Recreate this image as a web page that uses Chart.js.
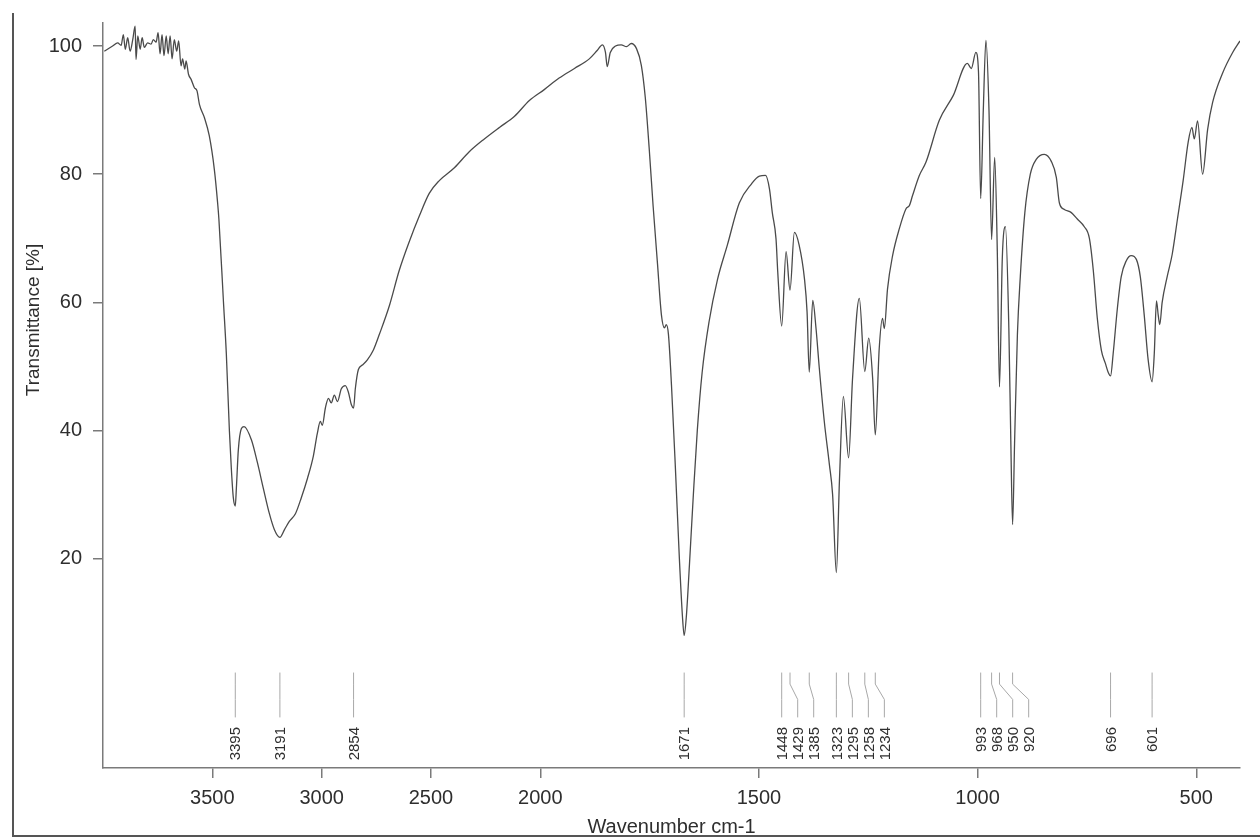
<!DOCTYPE html>
<html>
<head>
<meta charset="utf-8">
<title>IR spectrum</title>
<script src="https://cdn.jsdelivr.net/npm/chart.js@4.4.1/dist/chart.umd.min.js"></script>
<style>
  html, body { margin: 0; padding: 0; background: #ffffff; }
  #wrap { width: 1260px; height: 838px; position: relative; }
</style>
</head>
<body>
<div id="wrap"><canvas id="c" width="1260" height="838"></canvas></div>
<script>
// Spectrum samples: wavenumber (cm-1) and transmittance (%)
const wavenumbers = [
  3994, 3956, 3933, 3917, 3907, 3898, 3887, 3876, 3864, 3853, 3849, 3841, 3830, 3821, 3811,
  3796, 3780, 3770, 3757, 3748, 3739, 3730, 3721, 3711, 3702, 3693, 3684, 3674, 3663, 3654,
  3643, 3636, 3626, 3620, 3609, 3597, 3582, 3570, 3559, 3536, 3514, 3491, 3476, 3470, 3449,
  3436, 3422, 3413, 3404, 3395, 3390, 3381, 3367, 3355, 3321, 3294, 3267, 3239, 3216, 3191,
  3170, 3148, 3120, 3093, 3065, 3038, 3020, 3006, 2997, 2983, 2969, 2956, 2942, 2928, 2910,
  2892, 2878, 2864, 2854, 2846, 2832, 2814, 2791, 2764, 2736, 2690, 2645, 2599, 2553, 2508,
  2462, 2393, 2325, 2256, 2187, 2119, 2050, 1991, 1957, 1922, 1888, 1870, 1858, 1851, 1847,
  1840, 1828, 1815, 1803, 1792, 1780, 1769, 1760, 1751, 1742, 1732, 1723, 1716, 1712, 1707,
  1700, 1691, 1682, 1675, 1671, 1666, 1659, 1650, 1641, 1630, 1614, 1595, 1572, 1545, 1517,
  1499, 1485, 1476, 1469.5, 1461, 1457, 1448, 1438, 1429, 1419, 1408, 1396, 1390, 1385, 1377,
  1369.5, 1362, 1350.6, 1339, 1331.6, 1323, 1316, 1307, 1295, 1286, 1270.5, 1258, 1249, 1240, 1234,
  1225, 1217.5, 1213.3, 1206, 1194.4, 1179, 1163.7, 1156, 1148.6, 1133.3, 1118, 1087.6, 1055.6, 1023.5, 1014.4,
  1004, 998, 993, 987, 981, 974, 968, 961, 955, 950, 943.5, 936.4, 928.6, 924, 920,
  915.5, 909, 902.4, 892, 879.5, 866, 847.5, 831.5, 820, 813, 801.7, 785.7, 772, 756, 744.5,
  735.5, 726.3, 717, 708, 701, 696, 690, 680.5, 671.6, 660, 648.7, 637, 628, 619, 610,
  601, 596, 591, 587, 583.5, 578, 566.5, 555, 543, 530, 518.5, 510, 504.5, 497, 485.5,
  474, 462.6, 439.7, 416.8, 400
];
const transmittance = [
  99.2, 100.0, 100.5, 100.1, 101.8, 99.5, 101.3, 99.2, 101.0, 103.1, 97.9, 101.6, 99.5, 101.3, 99.8,
  100.5, 100.3, 101.0, 100.6, 102.1, 98.8, 101.8, 98.5, 101.6, 98.8, 101.6, 98.0, 101.0, 99.2, 100.8,
  96.9, 98.0, 96.4, 97.7, 95.6, 94.8, 93.5, 93.0, 90.9, 88.8, 86.0, 80.8, 75.6, 73.0, 60.0,
  52.0, 40.0, 34.0, 29.5, 28.2, 31.0, 37.0, 40.3, 40.6, 38.5, 35.0, 31.0, 27.0, 24.5, 23.3,
  24.5, 25.8, 27.0, 29.5, 32.5, 36.0, 39.5, 41.4, 40.8, 43.5, 45.0, 44.3, 45.5, 44.5, 46.5,
  47.0, 46.0, 44.0, 43.5, 46.5, 49.5, 50.2, 51.0, 52.5, 55.0, 59.5, 65.0, 69.5, 73.5, 77.0,
  79.0, 81.0, 83.5, 85.5, 87.3, 89.0, 91.5, 93.2, 95.0, 96.5, 98.0, 99.3, 100.2, 99.0, 96.8,
  99.0, 100.0, 100.2, 99.9, 100.4, 99.6, 97.0, 92.0, 84.0, 75.0, 66.0, 58.0, 56.0, 56.5, 55.0,
  47.0, 34.0, 20.0, 11.0, 8.0, 11.0, 19.0, 30.0, 40.0, 49.0, 57.0, 63.5, 69.0, 75.5, 78.5,
  79.7, 79.8, 77.7, 74.0, 69.9, 64.7, 56.3, 67.9, 61.9, 70.9, 68.9, 63.7, 58.5, 49.1, 60.3,
  55.9, 49.7, 41.4, 34.7, 30.0, 17.8, 32.1, 45.3, 35.7, 48.1, 60.6, 49.2, 54.4, 48.1, 39.3,
  52.8, 57.5, 55.9, 62.1, 67.3, 71.5, 74.6, 75.1, 76.7, 79.8, 81.9, 88.4, 92.3, 97.3, 96.5,
  99.0, 96.0, 76.2, 90.0, 100.9, 90.0, 69.8, 82.6, 68.0, 46.8, 67.0, 71.8, 56.0, 38.0, 25.3,
  38.0, 55.0, 64.0, 74.0, 80.0, 82.3, 83.1, 82.0, 79.5, 75.5, 74.5, 74.0, 73.0, 71.8, 70.0,
  65.0, 57.5, 52.5, 50.5, 49.0, 48.5, 52.0, 59.0, 64.0, 66.5, 67.3, 66.7, 64.0, 58.0, 51.0,
  47.6, 52.0, 60.2, 58.0, 56.5, 60.0, 64.0, 67.5, 73.0, 79.0, 85.0, 87.3, 85.5, 88.3, 80.0,
  87.0, 91.2, 95.8, 99.0, 100.8
];

// Picked peak positions (cm-1)
const peakLabels = [3395, 3191, 2854, 1671, 1448, 1429, 1385, 1323, 1295, 1258, 1234, 993, 968, 950, 920, 696, 601];

// Axis ticks
const xTickValues = [3500, 3000, 2500, 2000, 1500, 1000, 500];
const yTickValues = [20, 40, 60, 80, 100];

// The wavenumber axis is compressed by half above 2000 cm-1
function toPos(w) { return w <= 2000 ? w : 2000 + (w - 2000) / 2; }
function fromPos(p) { return p <= 2000 ? p : 2000 + (p - 2000) * 2; }

const points = wavenumbers.map((w, i) => ({ x: toPos(w), y: transmittance[i] }));

const AXIS_COLOR = '#7a7a7a';
const TEXT_COLOR = '#2e2e2e';
const FONT = '"Liberation Sans", Arial, sans-serif';

// Peak markers with labels; labels are pushed apart when peaks crowd together
const peakMarkers = {
  id: 'peakMarkers',
  afterDatasetsDraw(chart) {
    const { ctx, scales: { x, y } } = chart;
    const gap = 16;
    const yTop = y.getPixelForValue(2.2);
    const yKnee1 = y.getPixelForValue(0.4);
    const yKnee2 = y.getPixelForValue(-2.0);
    const yBottom = y.getPixelForValue(-4.8);
    const yText = y.getPixelForValue(-6.3);
    let prev = -Infinity;
    ctx.save();
    ctx.font = '15px ' + FONT;
    peakLabels.forEach(w => {
      const px = x.getPixelForValue(toPos(w));
      const lx = Math.max(px, prev + gap);
      prev = lx;
      ctx.strokeStyle = '#a8a8a8';
      ctx.lineWidth = 1;
      ctx.beginPath();
      ctx.moveTo(px, yTop);
      ctx.lineTo(px, yKnee1);
      ctx.lineTo(lx, yKnee2);
      ctx.lineTo(lx, yBottom);
      ctx.stroke();
      ctx.save();
      ctx.translate(lx + 1, yText);
      ctx.rotate(-Math.PI / 2);
      ctx.fillStyle = TEXT_COLOR;
      ctx.textAlign = 'right';
      ctx.textBaseline = 'middle';
      ctx.fillText(String(w), 0, 0);
      ctx.restore();
    });
    ctx.restore();
  }
};

// Frame and axis titles
const frameAndTitles = {
  id: 'frameAndTitles',
  afterDraw(chart) {
    const { ctx, chartArea } = chart;
    ctx.save();
    ctx.strokeStyle = '#555';
    ctx.lineWidth = 2;
    ctx.beginPath();
    ctx.moveTo(13, 13);
    ctx.lineTo(13, 836);
    ctx.lineTo(1260, 836);
    ctx.stroke();

    ctx.fillStyle = TEXT_COLOR;
    ctx.font = '20px ' + FONT;
    ctx.textAlign = 'center';
    ctx.textBaseline = 'alphabetic';
    ctx.fillText('Wavenumber cm-1', (chartArea.left + chartArea.right) / 2, 833);

    ctx.save();
    ctx.translate(34, 320);
    ctx.rotate(-Math.PI / 2);
    ctx.font = '19px ' + FONT;
    ctx.textBaseline = 'middle';
    ctx.fillText('Transmittance [%]', 0, 0);
    ctx.restore();
    ctx.restore();
  }
};

new Chart(document.getElementById('c'), {
  type: 'line',
  data: {
    datasets: [{
      data: points,
      borderColor: '#4a4a4a',
      borderWidth: 1.3,
      pointRadius: 0,
      fill: false,
      cubicInterpolationMode: 'monotone'
    }]
  },
  options: {
    responsive: false,
    animation: false,
    events: [],
    layout: { padding: { left: 0, right: 20, top: 19, bottom: 0 } },
    plugins: { legend: { display: false }, tooltip: { enabled: false } },
    scales: {
      x: {
        type: 'linear',
        reverse: true,
        min: toPos(400),
        max: toPos(4000),
        afterBuildTicks(scale) { scale.ticks = xTickValues.map(v => ({ value: toPos(v) })); },
        afterFit(scale) { scale.height = 70; },
        border: { display: true, color: AXIS_COLOR, width: 1.5 },
        grid: { drawOnChartArea: false, drawTicks: true, tickLength: 10, color: AXIS_COLOR, lineWidth: 1.5 },
        ticks: {
          autoSkip: false, maxRotation: 0, padding: 8,
          color: TEXT_COLOR, font: { family: FONT, size: 20 },
          callback: v => String(Math.round(fromPos(v)))
        }
      },
      y: {
        type: 'linear',
        min: -12.7,
        max: 103.6,
        afterBuildTicks(scale) { scale.ticks = yTickValues.map(v => ({ value: v })); },
        afterFit(scale) { scale.width = 103; },
        border: { display: true, color: AXIS_COLOR, width: 1.5 },
        grid: { drawOnChartArea: false, drawTicks: true, tickLength: 10, color: AXIS_COLOR, lineWidth: 1.5 },
        ticks: {
          padding: 11,
          color: TEXT_COLOR, font: { family: FONT, size: 20 },
          callback: v => String(v)
        }
      }
    }
  },
  plugins: [peakMarkers, frameAndTitles]
});
</script>
</body>
</html>
